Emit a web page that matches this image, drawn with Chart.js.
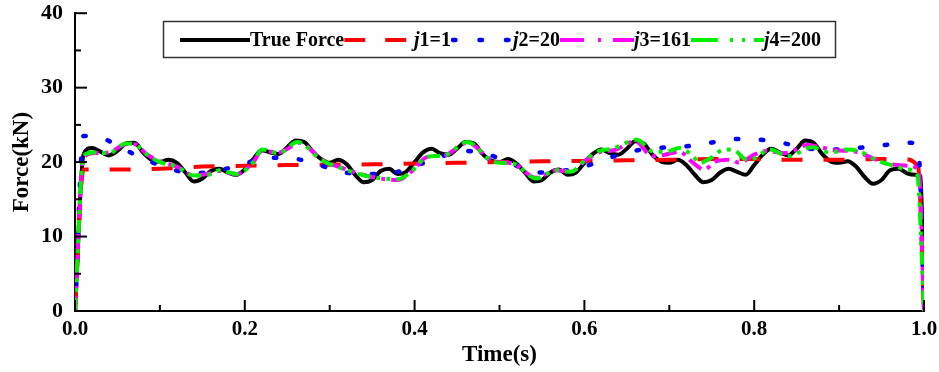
<!DOCTYPE html>
<html>
<head>
<meta charset="utf-8">
<script src="https://cdn.jsdelivr.net/npm/chart.js@4"></script>
<style>
  html, body { margin: 0; padding: 0; background: #fff; }
  #wrap { width: 939px; height: 372px; }
</style>
</head>
<body>
<div id="wrap"><canvas id="c" width="939" height="372"></canvas></div>
<script>
// ---------------- DATA ----------------
const xTickLabels = ['0.0', '0.2', '0.4', '0.6', '0.8', '1.0'];
const yTickLabels = ['0', '10', '20', '30', '40'];
const seriesNames = ['True Force', 'j1=1', 'j2=20', 'j3=161', 'j4=200'];

const tTrue = [0, 0.01, 0.02, 0.03, 0.04, 0.05, 0.06, 0.07, 0.08, 0.09,
  0.10, 0.11, 0.12, 0.13, 0.14, 0.15, 0.16, 0.17, 0.18, 0.19,
  0.20, 0.21, 0.22, 0.23, 0.24, 0.25, 0.26, 0.27, 0.28, 0.29,
  0.30, 0.31, 0.32, 0.33, 0.34, 0.35, 0.36, 0.37, 0.38, 0.39,
  0.40, 0.41, 0.42, 0.43, 0.44, 0.45, 0.46, 0.47, 0.48, 0.49,
  0.50, 0.51, 0.52, 0.53, 0.54, 0.55, 0.56, 0.57, 0.58, 0.59,
  0.60, 0.61, 0.62, 0.63, 0.64, 0.65, 0.66, 0.67, 0.68, 0.69,
  0.70, 0.71, 0.72, 0.73, 0.74, 0.75, 0.76, 0.77, 0.78, 0.79,
  0.80, 0.81, 0.82, 0.83, 0.84, 0.85, 0.86, 0.87, 0.88, 0.89,
  0.90, 0.91, 0.92, 0.93, 0.94, 0.95, 0.96, 0.97, 0.98, 0.99,
  0.996, 1.0];
const fTrue = [0, 21.0, 21.9, 21.4, 20.9, 21.5, 22.5, 22.6, 21.3, 20.3,
  20.0, 20.3, 19.9, 18.6, 17.4, 17.8, 18.8, 19.1, 18.6, 18.3,
  19.0, 20.4, 21.6, 21.3, 21.1, 22.0, 22.9, 22.7, 21.4, 20.4,
  19.9, 20.3, 19.7, 18.3, 17.3, 17.6, 18.8, 19.1, 18.4, 18.7,
  20.0, 21.3, 21.8, 21.2, 21.0, 21.8, 22.7, 22.5, 21.1, 20.2,
  20.0, 20.4, 19.8, 18.6, 17.4, 17.6, 18.6, 19.0, 18.3, 18.6,
  19.9, 21.1, 21.7, 21.2, 21.0, 21.8, 22.8, 22.5, 21.0, 20.1,
  19.9, 20.3, 19.6, 18.3, 17.3, 17.6, 18.6, 19.1, 18.7, 18.3,
  19.6, 21.0, 21.8, 21.3, 20.9, 21.8, 22.9, 22.6, 21.1, 20.1,
  19.9, 20.1, 19.4, 18.0, 17.1, 17.6, 18.9, 19.1, 18.5, 18.3,
  18.1, 0];

const tJ1 = [0, 0.01, 0.05, 0.10, 0.15, 0.20, 0.25, 0.30, 0.35, 0.40, 0.45,
  0.50, 0.55, 0.60, 0.65, 0.70, 0.75, 0.80, 0.85, 0.90, 0.95, 0.975, 0.993, 1.0];
const fJ1 = [0, 19.0, 19.0, 19.1, 19.4, 19.5, 19.6, 19.65, 19.7, 19.8, 19.9,
  20.0, 20.1, 20.15, 20.25, 20.3, 20.4, 20.4, 20.3, 20.3, 20.4, 20.4, 19.4, 0];

const tJ2 = [0, 0.01, 0.03, 0.055, 0.08, 0.112, 0.14, 0.17, 0.197, 0.227,
  0.256, 0.285, 0.313, 0.343, 0.372, 0.40, 0.428, 0.458, 0.487, 0.516,
  0.543, 0.572, 0.60, 0.63, 0.658, 0.688, 0.718, 0.748, 0.778, 0.808,
  0.836, 0.865, 0.895, 0.923, 0.953, 0.984, 0.994, 1.0];
const fJ2 = [0, 23.5, 23.3, 21.9, 20.5, 19.1, 18.5, 18.9, 19.7, 20.6,
  20.5, 19.7, 18.7, 18.4, 18.5, 19.5, 20.6, 21.5, 21.0, 19.7,
  18.6, 18.8, 19.4, 20.6, 21.5, 21.9, 22.1, 22.6, 23.1, 23.0,
  22.5, 21.8, 21.7, 21.9, 22.3, 22.6, 20.7, 0];

const tJ3 = [0, 0.01, 0.02, 0.04, 0.06, 0.07, 0.085, 0.10, 0.12, 0.14,
  0.16, 0.17, 0.19, 0.21, 0.22, 0.24, 0.265, 0.29, 0.32, 0.35,
  0.38, 0.395, 0.415, 0.435, 0.462, 0.494, 0.516, 0.543, 0.567, 0.584,
  0.602, 0.62, 0.635, 0.66, 0.68, 0.695, 0.712, 0.727, 0.741, 0.755,
  0.772, 0.782, 0.80, 0.815, 0.835, 0.848, 0.862, 0.878, 0.895, 0.92,
  0.94, 0.96, 0.983, 0.994, 1.0];
const fJ3 = [0, 20.5, 21.2, 21.3, 22.4, 22.4, 21.0, 20.1, 19.4, 18.2,
  18.5, 18.8, 18.4, 20.0, 21.5, 21.3, 22.6, 20.4, 19.0, 18.0,
  17.6, 18.6, 20.7, 20.9, 22.6, 20.1, 19.8, 17.9, 18.9, 18.7,
  20.3, 21.4, 21.6, 22.8, 20.8, 21.0, 21.4, 20.0, 19.0, 20.1,
  20.3, 19.9, 21.0, 21.5, 21.2, 21.6, 22.3, 22.0, 21.6, 21.4,
  20.5, 19.7, 19.5, 18.7, 0];

const tJ4 = [0, 0.01, 0.02, 0.04, 0.06, 0.07, 0.085, 0.10, 0.12, 0.14,
  0.16, 0.17, 0.19, 0.21, 0.22, 0.24, 0.262, 0.29, 0.321, 0.349,
  0.38, 0.396, 0.415, 0.435, 0.462, 0.494, 0.516, 0.543, 0.567, 0.584,
  0.602, 0.618, 0.633, 0.662, 0.681, 0.696, 0.712, 0.726, 0.736, 0.748,
  0.765, 0.778, 0.79, 0.80, 0.818, 0.84, 0.868, 0.89, 0.91, 0.925,
  0.945, 0.965, 0.98, 0.992, 1.0];
const fJ4 = [0, 20.8, 21.3, 21.2, 22.5, 22.4, 21.0, 20.0, 19.4, 18.2,
  18.4, 18.9, 18.4, 20.0, 21.7, 21.2, 22.7, 20.3, 18.9, 18.0,
  17.7, 18.7, 20.7, 20.9, 22.7, 20.0, 19.8, 17.8, 18.9, 18.7,
  20.4, 21.5, 21.8, 23.0, 21.4, 21.4, 21.9, 21.0, 19.9, 20.5,
  21.7, 21.5, 20.4, 20.5, 21.7, 20.8, 22.0, 21.3, 21.7, 21.4,
  20.2, 19.5, 19.0, 18.3, 0];

// ---------------- STYLE ----------------
const FONT = '"Liberation Serif", "Times New Roman", serif';
const styles = [
  { color: '#000000', dash: [], legendDash: [], cap: 'butt', width: 4 },
  { color: '#ff0000', dash: [21, 21], legendDash: [21, 20], cap: 'butt', width: 4 },
  { color: '#0000ff', dash: [2.5, 22.5], legendDash: [2.5, 24], cap: 'round', width: 4.5 },
  { color: '#ff00ff', dash: [15, 6, 4, 6], legendDash: [24, 14, 3, 12], cap: 'butt', width: 4 },
  { color: '#00f000', dash: [13, 6, 4, 6, 4, 6], legendDash: [27, 12, 3, 9, 3, 9], cap: 'butt', width: 4 }
];

function pts(ts, vs) { return ts.map((t, i) => ({ x: t, y: vs[i] })); }
const seriesData = [pts(tTrue, fTrue), pts(tJ1, fJ1), pts(tJ2, fJ2), pts(tJ3, fJ3), pts(tJ4, fJ4)];

const datasets = seriesData.map((d, i) => ({
  label: seriesNames[i],
  data: d,
  borderColor: styles[i].color,
  backgroundColor: styles[i].color,
  borderWidth: styles[i].width,
  borderDash: styles[i].dash,
  borderCapStyle: styles[i].cap,
  borderJoinStyle: 'round',
  pointRadius: 0,
  fill: false,
  cubicInterpolationMode: 'monotone',
  order: 4 - i
}));

// inward ticks drawn from the scales
const tickPlugin = {
  id: 'inTicks',
  afterDatasetsDraw(chart) {
    const ctx = chart.ctx;
    const xs = chart.scales.x, ys = chart.scales.y;
    const bottom = chart.chartArea.bottom, left = chart.chartArea.left;
    ctx.save();
    ctx.strokeStyle = '#000';
    ctx.lineWidth = 2;
    for (let k = 0; k <= 10; k++) {
      const v = k / 10;
      const px = xs.getPixelForValue(v);
      const len = (k % 2 === 0) ? 11 : 6;
      ctx.beginPath(); ctx.moveTo(px, bottom); ctx.lineTo(px, bottom - len); ctx.stroke();
    }
    for (let k = 0; k <= 8; k++) {
      const v = k * 5;
      const py = ys.getPixelForValue(v);
      const len = (k % 2 === 0) ? 12 : 6;
      ctx.beginPath(); ctx.moveTo(left, py); ctx.lineTo(left + len, py); ctx.stroke();
    }
    ctx.restore();
  }
};

// legend drawn on the canvas (italic j)
const legendPlugin = {
  id: 'customLegend',
  afterDraw(chart) {
    const ctx = chart.ctx;
    ctx.save();
    const bx = 163.5, by = 21.5, bw = 672, bh = 36;
    ctx.fillStyle = '#fff';
    ctx.fillRect(bx, by, bw, bh);
    ctx.strokeStyle = '#333';
    ctx.lineWidth = 1.5;
    ctx.strokeRect(bx, by, bw, bh);
    const cy = 40;
    const textStarts = [250, 414, 513, 634, 764];
    let prevEnd = 180;
    ctx.textBaseline = 'middle';
    seriesNames.forEach((name, i) => {
      const st = styles[i];
      const x0 = prevEnd, x1 = textStarts[i];
      ctx.save();
      ctx.beginPath();
      ctx.rect(x0, cy - 6, x1 - x0, 12);
      ctx.clip();
      ctx.strokeStyle = st.color;
      ctx.lineWidth = st.width;
      ctx.lineCap = st.cap;
      ctx.setLineDash(st.legendDash);
      ctx.beginPath();
      ctx.moveTo(x0 + (st.cap === 'round' ? 2 : 0), cy);
      ctx.lineTo(x1, cy);
      ctx.stroke();
      ctx.restore();
      ctx.fillStyle = '#000';
      let x = x1;
      if (name.startsWith('j')) {
        ctx.font = 'italic bold 20px ' + FONT;
        ctx.fillText('j', x, cy + 1);
        x += ctx.measureText('j').width;
        ctx.font = 'bold 20px ' + FONT;
        ctx.fillText(name.slice(1), x, cy + 1);
        x += ctx.measureText(name.slice(1)).width;
      } else {
        ctx.font = 'bold 20px ' + FONT;
        ctx.fillText(name, x, cy + 1);
        x += ctx.measureText(name).width;
      }
      prevEnd = x;
    });
    ctx.restore();
  }
};

new Chart(document.getElementById('c'), {
  type: 'line',
  data: { datasets },
  options: {
    responsive: false,
    animation: false,
    devicePixelRatio: 1,
    layout: { padding: { left: 0, right: 15, top: 13, bottom: 0 } },
    plugins: { legend: { display: false }, tooltip: { enabled: false } },
    scales: {
      x: {
        type: 'linear', min: 0, max: 1,
        grid: { display: false, drawTicks: true, tickLength: 6 },
        border: { display: true, color: '#000', width: 2 },
        ticks: {
          stepSize: 0.2, maxRotation: 0, padding: 0, color: '#000',
          font: { family: FONT, weight: 'bold', size: 21 },
          callback: (v) => xTickLabels[Math.round(v / 0.2)]
        },
        title: { display: true, text: 'Time(s)', color: '#000',
          font: { family: FONT, weight: 'bold', size: 23 }, padding: { top: 0, bottom: 3 } },
        afterFit(s) { s.height = 61; }
      },
      y: {
        type: 'linear', min: 0, max: 40,
        grid: { display: false, drawTicks: true, tickLength: 12 },
        border: { display: true, color: '#000', width: 2 },
        ticks: {
          stepSize: 10, padding: 0, color: '#000',
          font: { family: FONT, weight: 'bold', size: 22 },
          callback: (v) => yTickLabels[Math.round(v / 10)]
        },
        title: { display: true, text: 'Force(kN)', color: '#000',
          font: { family: FONT, weight: 'bold', size: 23 }, padding: { top: 8, bottom: 0 } },
        afterFit(s) { s.width = 75; }
      }
    }
  },
  plugins: [tickPlugin, legendPlugin]
});
</script>
</body>
</html>
